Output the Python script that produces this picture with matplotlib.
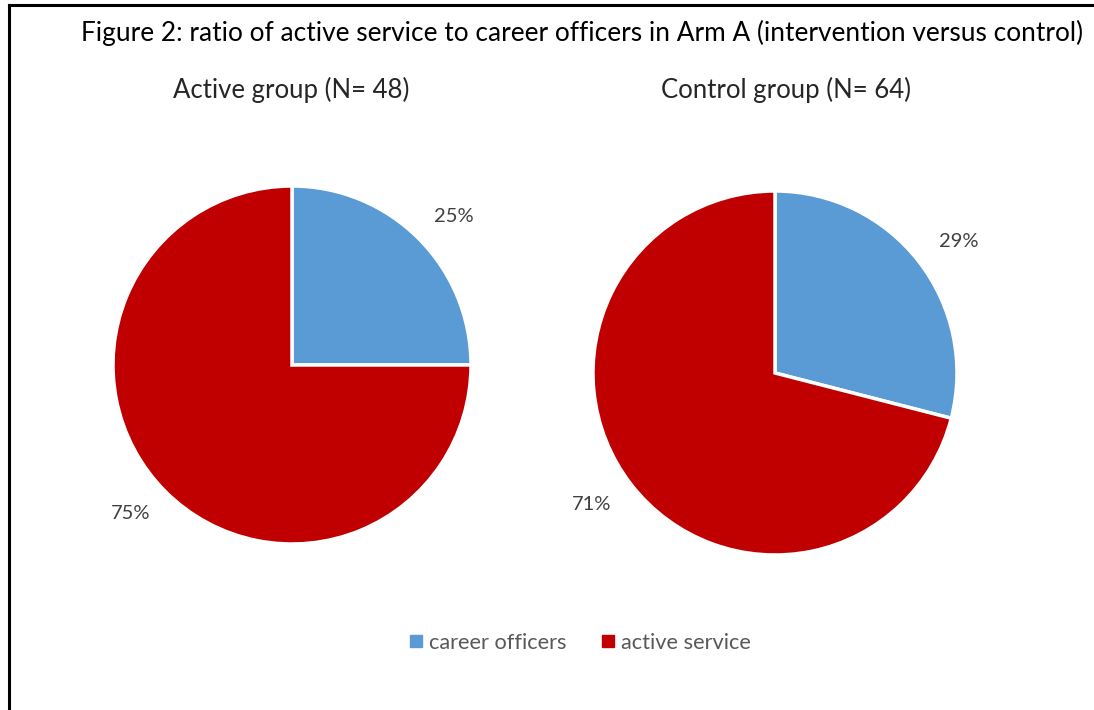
import matplotlib
matplotlib.use("Agg")
import matplotlib.pyplot as plt
from matplotlib.lines import Line2D

plt.rcParams['font.family'] = ['Lato', 'DejaVu Sans']

categories = ["career officers", "active service"]
active_values = [25, 75]
control_values = [29, 71]
titles = ["Active group (N= 48)", "Control group (N= 64)"]
main_title = "Figure 2: ratio of active service to career officers in Arm A (intervention versus control)"
colors = ["#5B9BD5", "#C00000"]

W, H = 1094, 710
fig = plt.figure(figsize=(W / 100, H / 100), dpi=100)

def axes_px(cx, cy, r):
    return [(cx - r) / W, (H - cy - r) / H, 2 * r / W, 2 * r / H]

pies = [((292, 365, 179), active_values), ((775, 373, 182), control_values)]
for (cx, cy, r), vals in pies:
    ax = fig.add_axes(axes_px(cx, cy, r))
    wedges, texts, autotexts = ax.pie(
        vals, colors=colors, startangle=90, counterclock=False,
        autopct='%d%%', pctdistance=1.25,
        wedgeprops=dict(edgecolor='white', linewidth=2.5),
        textprops=dict(color='#404040', fontsize=14.5, fontweight='normal'))
    for t in autotexts:
        x, y = t.get_position()
        t.set_position((x * 1.02, y * 0.94))
    ax.set_xlim(-1, 1)
    ax.set_ylim(-1, 1)
    ax.set_aspect('equal')
    ax.axis('off')

fig.text(582 / W, 1 - 33 / H, main_title, ha='center', va='center', fontsize=18.9, color='black')
fig.text(291 / W, 1 - 90 / H, titles[0], ha='center', va='center', fontsize=18.5, color='#262626')
fig.text(786 / W, 1 - 90 / H, titles[1], ha='center', va='center', fontsize=18.5, color='#262626')

handles = [Line2D([], [], marker='s', linestyle='none', markersize=8.5,
                  markerfacecolor=c, markeredgecolor=c) for c in colors]
fig.legend(handles, categories, loc='center', bbox_to_anchor=(578 / W, 1 - 643 / H),
           ncol=2, frameon=False, fontsize=15.7, labelcolor='#595959',
           handletextpad=0.1, columnspacing=1.4, handlelength=1.0)

# border lines (top and left)
fig.add_artist(Line2D([8.5 / W, 8.5 / W], [0, 1 - 5 / H], color='black', linewidth=2.2, transform=fig.transFigure))
fig.add_artist(Line2D([8.5 / W, 1], [1 - 5 / H, 1 - 5 / H], color='black', linewidth=2.2, transform=fig.transFigure))

fig.savefig("out.png", dpi=100)
